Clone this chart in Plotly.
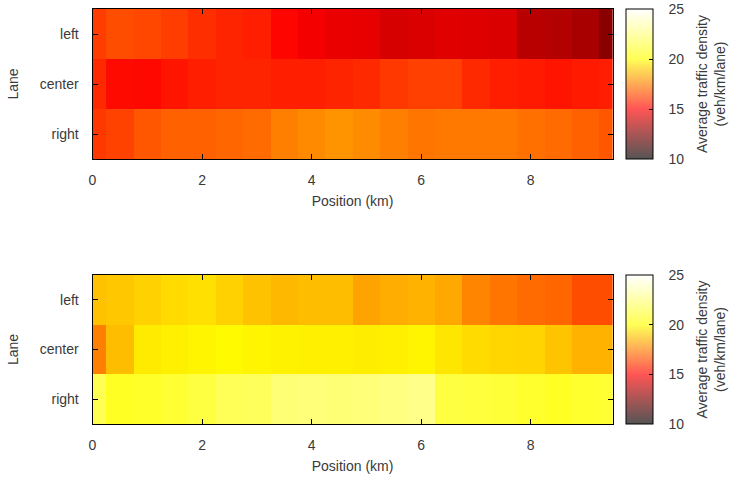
import plotly.graph_objects as go

positions = [i * 0.5 for i in range(20)]
lanes = ["right", "center", "left"]
x_ticks = [0, 2, 4, 6, 8]
cbar_ticks = [10, 15, 20, 25]

top_left = [16.2, 16.5, 16.4, 16.2, 15.9, 15.7, 15.6, 15.1, 14.8, 14.6, 14.5, 14.2, 14.3, 14.4, 14.35, 14.3, 13.6, 13.5, 13.3, 12.7]
top_center = [15.8, 15.2, 15.15, 15.4, 15.6, 15.7, 15.7, 15.6, 15.6, 15.7, 15.8, 16.1, 16.25, 16.25, 15.8, 15.6, 15.5, 15.4, 15.5, 15.6]
top_right = [16.1, 16.3, 16.7, 16.9, 16.9, 17.0, 17.1, 17.5, 17.7, 17.9, 17.75, 17.5, 17.3, 17.35, 17.35, 17.35, 17.2, 17.1, 16.9, 16.7]

bot_left = [18.8, 18.9, 19.1, 19.3, 19.4, 19.1, 18.8, 18.6, 18.7, 18.7, 18.2, 18.4, 18.5, 18.3, 17.6, 17.3, 17.1, 17.0, 16.5, 16.5]
bot_center = [17.5, 18.7, 19.6, 19.7, 19.8, 19.9, 19.8, 19.75, 19.7, 19.7, 19.65, 19.7, 19.8, 19.5, 19.3, 19.2, 19.15, 18.85, 18.5, 18.5]
bot_right = [21.6, 20.7, 20.8, 21.0, 21.3, 21.7, 21.8, 22.3, 22.4, 22.3, 22.4, 22.5, 22.7, 21.3, 21.2, 21.1, 20.9, 20.7, 20.9, 21.0]

ZMIN, ZMAX = 10, 25
hot = [[0, "#000000"], [1/3, "#ff0000"], [2/3, "#ffff00"], [1, "#ffffff"]]
hot_faded = [[0, "#555555"], [1/3, "#ff5555"], [2/3, "#ffff55"], [1, "#ffffff"]]

W, H = 734, 481
FONT = "Liberation Sans, Arial, sans-serif"
TXT = "#3a3a3a"
FS = 14
NB = "\u00a0\u00a0\u00a0"
NB_AFTER = "\u00a0\u00a0"

fig = go.Figure()

panels = [
    (top_right, top_center, top_left, "x", "y", (9, 159)),
    (bot_right, bot_center, bot_left, "x2", "y2", (275, 424)),
]

for r, c, l, xa, ya, (ptop, pbot) in panels:
    fig.add_trace(go.Heatmap(
        x=positions, y=lanes, z=[r, c, l],
        colorscale=hot, zmin=ZMIN, zmax=ZMAX, showscale=False,
        xaxis=xa, yaxis=ya, hoverinfo="skip",
    ))
    fig.add_trace(go.Scatter(
        x=[None], y=[None], mode="markers", xaxis=xa, yaxis=ya,
        showlegend=False, hoverinfo="skip",
        marker=dict(
            color=[ZMIN, ZMAX], cmin=ZMIN, cmax=ZMAX, colorscale=hot_faded,
            showscale=True,
            colorbar=dict(
                x=625 / W, xanchor="left", thickness=27, thicknessmode="pixels",
                len=pbot - ptop, lenmode="pixels",
                y=1 - (ptop + pbot) / 2 / H, yanchor="middle",
                tickvals=cbar_ticks,
                ticktext=[NB + str(v) + NB_AFTER for v in cbar_ticks],
                ticks="inside", ticklen=4, tickcolor="#000",
                outlinecolor="#000", outlinewidth=1,
                tickfont=dict(size=FS, color=TXT, family=FONT),
                title=dict(text="Average traffic density<br>(veh/km/lane)", side="right",
                           font=dict(size=FS, color=TXT, family=FONT)),
                xpad=0, ypad=0,
            ),
        ),
    ))

axis_common = dict(
    showline=True, linecolor="#000", linewidth=1, mirror="allticks",
    ticks="inside", ticklen=5, tickcolor="#000",
    tickfont=dict(size=FS, color=TXT, family=FONT), showgrid=False, zeroline=False,
)

def xaxis(domain, anchor):
    return dict(axis_common, domain=domain, anchor=anchor, range=[0, 9.5],
                tickvals=x_ticks, ticklabelstandoff=8,
                title=dict(text="Position (km)", standoff=9,
                           font=dict(size=FS, color=TXT, family=FONT)))

def yaxis(domain, anchor):
    return dict(axis_common, domain=domain, anchor=anchor, range=[-0.5, 2.5],
                ticklabelstandoff=10,
                title=dict(text="Lane", standoff=17, font=dict(size=FS, color=TXT, family=FONT)))

fig.update_layout(
    width=W, height=H, margin=dict(l=0, r=0, t=0, b=0),
    paper_bgcolor="white", plot_bgcolor="white",
    xaxis=xaxis([89 / W, 612 / W], "y"),
    yaxis=yaxis([1 - 159 / H, 1 - 9 / H], "x"),
    xaxis2=xaxis([89 / W, 612 / W], "y2"),
    yaxis2=yaxis([1 - 424 / H, 1 - 275 / H], "x2"),
    font=dict(family=FONT, color=TXT),
)

fig.write_html("out.html")
